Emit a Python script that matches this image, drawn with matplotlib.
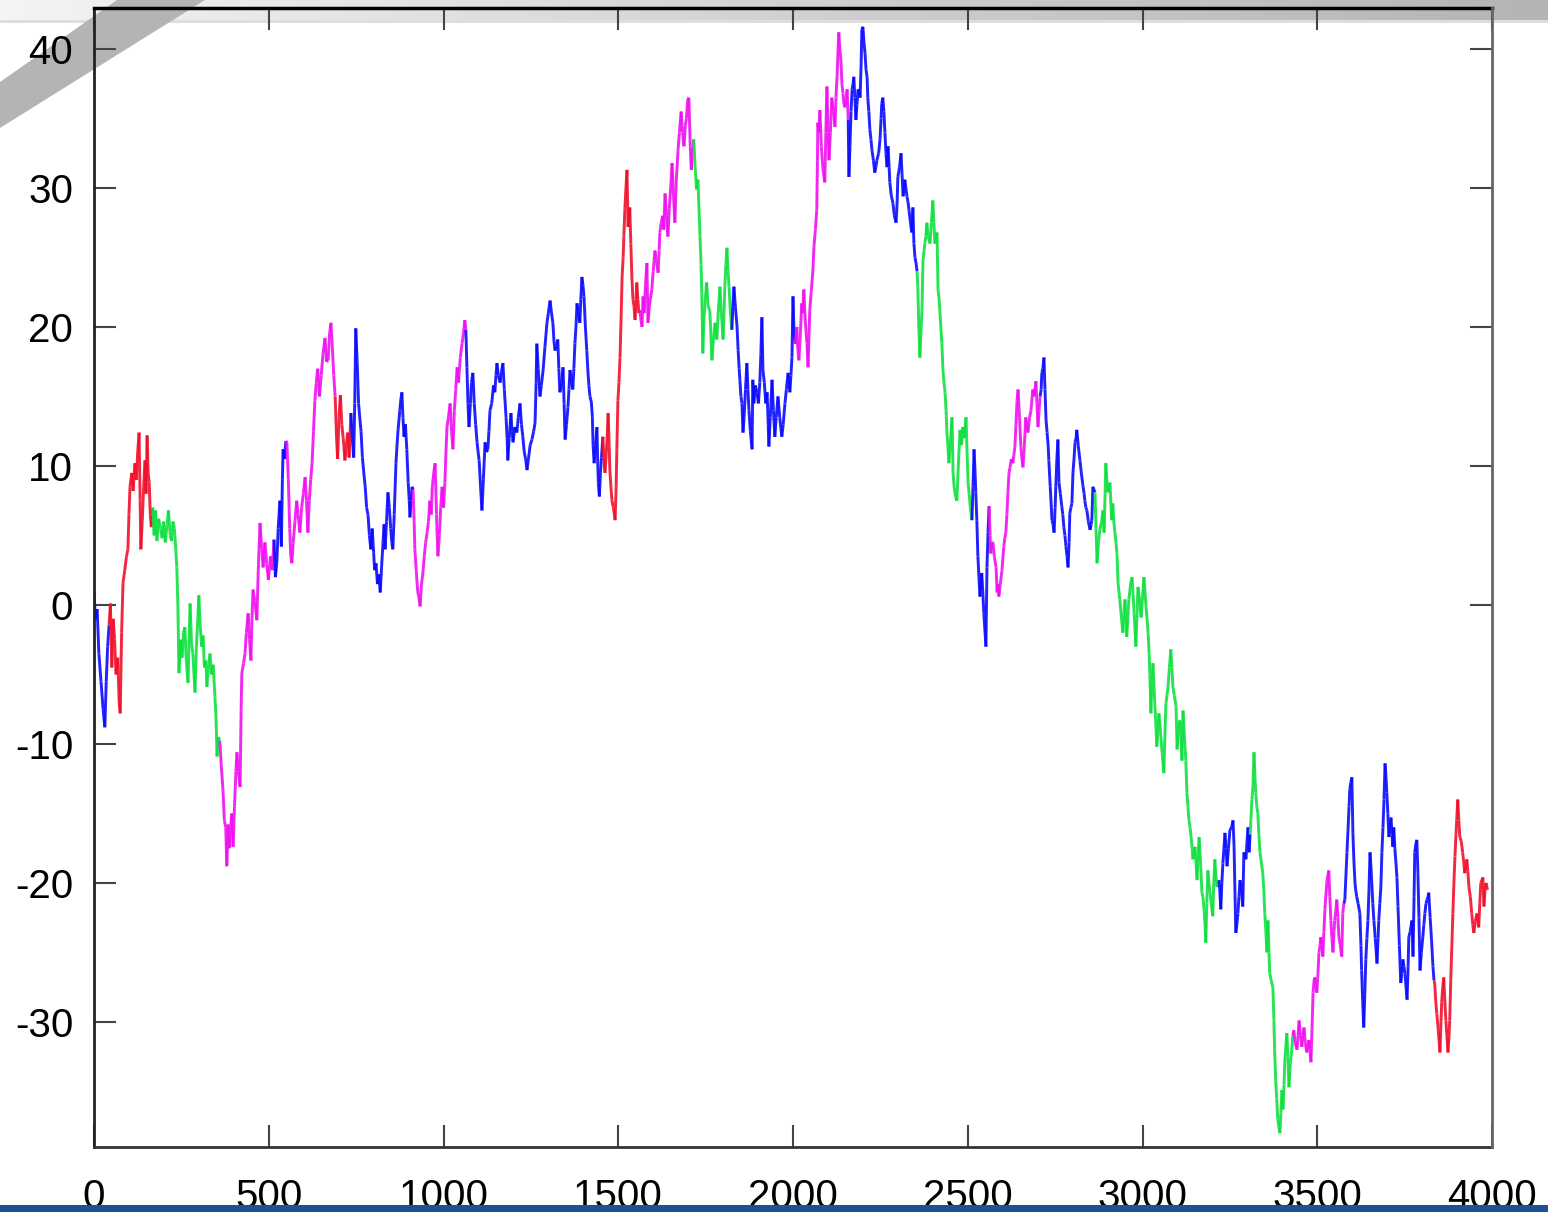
import matplotlib.pyplot as plt
import numpy as np
from matplotlib.collections import LineCollection
from matplotlib.colors import LinearSegmentedColormap
from matplotlib.patches import Polygon, Rectangle

plt.rcParams['font.family'] = ['Liberation Sans', 'DejaVu Sans']
plt.rcParams['axes.unicode_minus'] = False

# Random walk vertices (step, value), grouped by regime
walk_x = [
    0, 4, 9, 14, 20, 26, 31, 35, 39,
    43, 47, 51, 55, 59, 63, 68, 72, 75, 79, 83, 88, 93, 97, 100, 103, 108, 112, 117, 121, 125, 129, 132, 134, 138, 142, 146, 149, 152, 155, 158, 161, 164,
    168, 172, 176, 180, 185, 190, 195, 199, 204, 209, 213, 218, 222, 226, 230, 234, 237, 240, 243, 248, 252, 256, 260, 264, 269, 272, 275, 279, 283, 286, 289, 293, 297, 300, 304, 308, 312, 316, 320, 323, 327, 332, 336, 341, 346, 349, 352, 356,
    360, 364, 369, 373, 377, 380, 384, 387, 391, 394, 398, 402, 406, 409, 413, 418, 421, 423, 428, 432, 436, 441, 445, 449, 452, 455, 460, 466, 470, 475, 480, 484, 489, 494, 499, 505, 510,
    515, 519, 523, 527, 532, 536, 539, 541, 545,
    549, 552, 556, 560, 563, 566, 570, 575, 580, 584, 589, 594, 599, 604, 608, 612, 616, 620, 624, 628, 632, 636, 640, 645, 650, 655, 661, 665, 670, 674, 678, 682, 686,
    690, 694, 697, 701, 705, 709, 713, 718, 722, 726, 730,
    735, 739, 743, 746, 749, 753, 757, 760, 764, 768, 772, 776, 780, 784, 788, 792, 796, 800, 803, 807, 811, 815, 819, 823, 827, 830, 833, 837, 841, 845, 849, 852, 855, 859, 864, 867, 870, 875, 878, 881, 884, 887, 891, 895, 899, 902, 904, 907, 910,
    913, 916, 918, 922, 926, 930, 933, 937, 941, 945, 949, 953, 957, 961, 965, 968, 972, 976, 980, 984, 988, 992, 996, 1000, 1004, 1007, 1010, 1014, 1019, 1023, 1027, 1031, 1035, 1039, 1043, 1048, 1053, 1057, 1061,
    1064, 1067, 1070, 1073, 1077, 1080, 1084, 1088, 1092, 1096, 1099, 1102, 1106, 1110, 1114, 1119, 1123, 1127, 1130, 1133, 1138, 1143, 1147, 1150, 1153, 1157, 1162, 1166, 1170, 1174, 1179, 1182, 1184, 1188, 1193, 1196, 1199, 1204, 1210, 1214, 1219, 1223, 1227, 1231, 1235, 1239, 1243, 1248, 1253, 1258, 1262, 1265, 1267, 1271, 1276, 1280, 1285, 1290, 1296, 1300, 1305, 1309, 1313, 1316, 1319, 1323, 1327, 1330, 1333, 1338, 1342, 1345, 1348, 1352, 1356, 1359, 1362, 1366, 1370, 1373, 1376, 1379, 1382, 1386, 1390, 1393, 1396, 1399, 1402, 1406, 1410, 1413, 1416, 1419, 1423, 1426, 1428, 1431, 1435, 1439, 1441, 1443, 1446, 1449, 1452,
    1456, 1459, 1462, 1466, 1469, 1471, 1474, 1476, 1479, 1482, 1486, 1489, 1491, 1494, 1496, 1499, 1502, 1505, 1508, 1511, 1514, 1516, 1519, 1522, 1525, 1528, 1531, 1533, 1536, 1539, 1542, 1545, 1548, 1551, 1553, 1556, 1559,
    1562, 1565, 1568, 1571, 1574, 1578, 1582, 1585, 1589, 1592, 1596, 1600, 1605, 1609, 1614, 1617, 1619, 1623, 1627, 1630, 1634, 1638, 1642, 1646, 1650, 1654, 1658, 1662, 1666, 1671, 1675, 1680, 1684, 1688, 1692, 1695, 1699, 1702, 1706, 1709, 1712,
    1716, 1720, 1724, 1728, 1731, 1734, 1737, 1739, 1742, 1745, 1749, 1753, 1757, 1762, 1765, 1768, 1772, 1777, 1782, 1786, 1791, 1795, 1800, 1805, 1808, 1811, 1814, 1817, 1821,
    1825, 1828, 1831, 1835, 1840, 1843, 1846, 1848, 1851, 1854, 1857, 1860, 1864, 1868, 1871, 1874, 1878, 1883, 1885, 1888, 1892, 1897, 1901, 1905, 1908, 1911, 1914, 1918, 1922, 1926, 1929, 1931, 1935, 1940, 1944, 1948, 1952, 1957, 1962, 1968, 1972, 1977, 1981, 1986, 1991, 1994, 1997, 2000, 2003,
    2007, 2011, 2014, 2017, 2021, 2025, 2028, 2031, 2035, 2040, 2043, 2046, 2048, 2052, 2057, 2060, 2064, 2068, 2070, 2071, 2074, 2077, 2081, 2086, 2091, 2094, 2097, 2100, 2103, 2107, 2111, 2116, 2120, 2123, 2126, 2129, 2131, 2134, 2137, 2140, 2143, 2146, 2149, 2152, 2155,
    2158, 2160, 2163, 2166, 2169, 2172, 2174, 2177, 2180, 2183, 2186, 2189, 2192, 2195, 2197, 2200, 2203, 2206, 2209, 2212, 2214, 2217, 2220, 2223, 2226, 2230, 2234, 2237, 2240, 2245, 2249, 2252, 2254, 2257, 2260, 2263, 2266, 2269, 2272, 2275, 2277, 2281, 2286, 2290, 2295, 2298, 2300, 2305, 2309, 2312, 2315, 2318, 2320, 2323, 2326, 2329, 2332, 2336, 2340, 2343, 2346, 2349, 2352,
    2355, 2357, 2360, 2363, 2366, 2369, 2372, 2375, 2377, 2380, 2383, 2387, 2392, 2396, 2400, 2403, 2406, 2409, 2412, 2415, 2418, 2420, 2423, 2426, 2429, 2432, 2435, 2438, 2440, 2443, 2446, 2450, 2455, 2458, 2461, 2465, 2469, 2473, 2478, 2482, 2486, 2490, 2495, 2498, 2501, 2504, 2507,
    2512, 2515, 2518, 2521, 2523, 2526, 2529, 2532, 2535, 2540, 2543, 2546, 2549, 2552, 2555, 2558,
    2561, 2564, 2566, 2569, 2572, 2576, 2581, 2584, 2587, 2589, 2593, 2598, 2603, 2606, 2609, 2612, 2615, 2618, 2621, 2625, 2629, 2632, 2635, 2638, 2641, 2644, 2648, 2652, 2655, 2658, 2662, 2666, 2669, 2672, 2677, 2681, 2686, 2690, 2695, 2698, 2701, 2704,
    2707, 2710, 2712, 2715, 2718, 2721, 2724, 2727, 2730, 2732, 2736, 2741, 2744, 2747, 2750, 2752, 2755, 2758, 2761, 2765, 2769, 2772, 2775, 2778, 2781, 2784, 2787, 2790, 2792, 2795, 2798, 2801, 2804, 2807, 2810, 2812, 2816, 2821, 2825, 2830, 2833, 2835, 2838, 2841, 2845, 2850, 2853, 2855, 2858, 2861,
    2864, 2867, 2870, 2874, 2878, 2883, 2887, 2890, 2893, 2895, 2898, 2901, 2904, 2907, 2910, 2912, 2915, 2918, 2921, 2924, 2927, 2930, 2935, 2940, 2944, 2947, 2950, 2955, 2958, 2961, 2966, 2970, 2973, 2976, 2981, 2984, 2987, 2991, 2996, 3000, 3004, 3007, 3010, 3013, 3016, 3019, 3021, 3024, 3027, 3030, 3035, 3038, 3041, 3044, 3047, 3051, 3056, 3059, 3061, 3064, 3067, 3070, 3073, 3077, 3081, 3084, 3087, 3091, 3096, 3099, 3103, 3107, 3110, 3113, 3116, 3120, 3124, 3127, 3130, 3133, 3136, 3139, 3142, 3144, 3147, 3150, 3153, 3156, 3159, 3162, 3166, 3170, 3173, 3176, 3179, 3181, 3184, 3187, 3190, 3193, 3197, 3201, 3204, 3207, 3210, 3213, 3216,
    3219, 3221, 3224, 3227, 3230, 3233, 3236, 3239, 3242, 3246, 3250, 3255, 3259, 3262, 3264, 3267, 3270, 3273, 3276, 3279, 3283, 3287, 3290, 3293, 3296, 3299, 3302, 3305,
    3308, 3310, 3313, 3316, 3319, 3322, 3324, 3327, 3330, 3333, 3336, 3340, 3344, 3347, 3350, 3353, 3356, 3359, 3362, 3364, 3368, 3373, 3376, 3378, 3381, 3384, 3387, 3390, 3393, 3396, 3399, 3402, 3405, 3407, 3410, 3413, 3416, 3419, 3423, 3427,
    3430, 3433, 3437, 3442, 3445, 3448, 3452, 3456, 3459, 3462, 3466, 3470, 3473, 3476, 3479, 3482, 3485, 3488, 3491, 3493, 3496, 3499, 3502, 3505, 3508, 3510, 3513, 3516, 3519, 3522, 3525, 3528, 3530, 3533, 3536, 3539, 3542, 3545, 3548, 3550, 3553, 3556, 3559, 3562, 3566, 3570, 3573,
    3576, 3579, 3582, 3585, 3588, 3591, 3593, 3596, 3599, 3602, 3605, 3608, 3610, 3613, 3617, 3622, 3625, 3627, 3630, 3633, 3636, 3639, 3642, 3645, 3648, 3651, 3654, 3656, 3659, 3662, 3666, 3671, 3674, 3676, 3679, 3682, 3685, 3688, 3691, 3694, 3697, 3699, 3702, 3705, 3708, 3711, 3714, 3716, 3719, 3722, 3725, 3728, 3731, 3735, 3739, 3742, 3745, 3748, 3751, 3754, 3757, 3760, 3762, 3766, 3771, 3774, 3777, 3779, 3782, 3785, 3788, 3791, 3794, 3798, 3802, 3805, 3808, 3811, 3814, 3817, 3819, 3823, 3827, 3831,
    3834, 3836, 3839, 3842, 3846, 3849, 3851, 3854, 3856, 3859, 3862, 3865, 3868, 3871, 3874, 3877, 3879, 3882, 3885, 3888, 3891, 3894, 3897, 3899, 3902, 3905, 3908, 3912, 3916, 3919, 3922, 3925, 3928, 3931, 3934, 3938, 3942, 3945, 3948, 3952, 3957, 3960, 3962, 3965, 3968, 3971, 3974, 3977, 3980, 3983, 3987,
]
walk_y = [
    0.9, -1.0, -0.3, -3.5, -5.5, -7.5, -8.8, -5.5, -3.0,
    -1.5, 0.1, -4.5, -1.0, -2.5, -5.0, -3.8, -7.0, -7.8, -2.0, 1.6, 2.5, 3.5, 4.0, 6.5, 8.5, 9.5, 8.2, 10.2, 9.0, 11.0, 12.4, 7.5, 4.0, 6.0, 8.5, 10.4, 8.0, 12.2, 9.5, 8.8, 6.5, 5.6,
    7.0, 5.0, 6.8, 4.6, 6.2, 5.5, 4.8, 6.0, 4.5, 5.8, 6.8, 5.0, 4.6, 6.0, 5.5, 4.0, 2.7, 0.0, -4.9, -2.5, -3.8, -2.0, -1.6, -4.0, -5.6, -2.5, 0.1, -2.8, -3.5, -5.0, -6.3, -3.0, -1.0, 0.7, -1.5, -3.0, -2.2, -4.5, -4.0, -5.9, -4.6, -3.5, -5.0, -4.3, -6.6, -8.0, -10.9, -9.5,
    -9.8, -11.5, -13.3, -15.5, -16.0, -18.8, -15.8, -17.5, -16.2, -15.0, -17.4, -14.5, -12.0, -10.6, -12.0, -13.1, -7.5, -4.9, -4.2, -3.5, -2.0, -0.6, -2.5, -4.0, -1.0, 1.1, 0.3, -1.1, 2.5, 5.9, 4.0, 2.7, 4.5, 3.0, 1.8, 3.5, 2.5,
    4.7, 2.0, 3.0, 5.5, 7.5, 4.2, 9.0, 11.2, 10.5,
    11.8, 11.7, 9.0, 5.5, 3.5, 3.0, 4.5, 6.0, 7.5, 6.5, 5.2, 7.0, 8.0, 9.2, 7.5, 5.2, 7.5, 9.0, 10.2, 12.5, 14.7, 16.0, 17.0, 15.0, 16.5, 18.0, 19.2, 17.5, 17.6, 19.5, 20.3, 18.5, 16.5,
    15.0, 12.0, 10.5, 13.5, 15.1, 13.0, 12.0, 10.4, 11.5, 12.4, 10.6,
    13.8, 12.0, 10.6, 14.5, 19.9, 17.5, 14.5, 13.6, 12.5, 10.6, 9.5, 8.5, 7.0, 6.5, 5.0, 4.0, 5.5, 3.8, 2.5, 3.0, 1.5, 2.2, 0.9, 2.8, 4.5, 5.8, 4.0, 6.0, 8.1, 7.0, 5.5, 4.5, 4.0, 6.5, 10.2, 11.5, 12.6, 14.0, 14.8, 15.3, 13.5, 12.1, 13.0, 11.2, 8.8, 7.5, 6.3, 7.5, 8.5,
    8.3, 6.0, 4.0, 2.5, 1.0, 0.5, -0.1, 1.5, 2.3, 3.5, 4.5, 5.2, 6.0, 7.5, 6.5, 8.5, 9.5, 10.2, 6.5, 3.5, 5.0, 7.0, 8.5, 7.0, 8.8, 11.0, 12.8, 13.5, 14.5, 12.5, 11.2, 14.0, 15.5, 17.1, 16.0, 17.8, 18.8, 19.5, 20.5,
    19.8, 17.1, 14.5, 12.8, 14.5, 16.0, 16.7, 14.5, 13.0, 11.7, 11.0, 10.4, 8.5, 6.8, 9.0, 11.7, 11.0, 11.2, 12.5, 14.0, 14.5, 15.8, 15.3, 16.5, 17.4, 16.5, 16.0, 16.8, 17.4, 15.5, 13.5, 12.0, 10.4, 12.0, 13.8, 12.5, 11.7, 12.8, 12.4, 13.5, 14.5, 13.0, 12.1, 11.0, 10.5, 9.7, 10.5, 11.5, 11.9, 12.5, 13.1, 16.0, 18.8, 17.0, 15.0, 15.8, 16.9, 18.5, 20.3, 21.0, 21.9, 21.0, 20.3, 19.0, 18.3, 18.6, 19.1, 17.0, 15.3, 16.0, 17.1, 14.5, 11.9, 13.0, 14.2, 15.5, 16.9, 16.0, 15.5, 17.0, 18.8, 20.0, 21.7, 21.0, 20.3, 22.0, 23.6, 23.0, 22.2, 20.0, 18.3, 16.9, 15.8, 15.0, 14.6, 13.5, 11.5, 10.2, 11.5, 12.8, 10.5, 8.8, 7.8, 9.5, 10.6,
    12.1, 10.5, 9.5, 11.0, 12.5, 13.8, 11.5, 9.7, 8.5, 7.5, 7.0, 6.5, 6.1, 8.5, 11.2, 14.7, 16.0, 17.8, 20.5, 23.6, 25.0, 26.5, 28.5, 30.0, 31.3, 27.2, 27.8, 28.6, 26.0, 23.6, 22.0, 21.5, 20.5, 22.0, 23.2, 22.0, 21.0,
    21.2, 20.5, 20.0, 22.2, 21.0, 23.0, 24.6, 20.3, 21.5, 22.0, 22.7, 24.0, 25.5, 24.8, 23.9, 25.5, 26.8, 27.5, 28.0, 27.0, 29.6, 28.0, 26.5, 28.5, 30.0, 31.8, 29.5, 27.5, 30.5, 32.7, 34.0, 35.5, 34.0, 33.0, 34.5, 35.0, 36.4, 36.5, 33.0, 31.3, 32.5,
    33.5, 31.5, 29.9, 30.6, 28.5, 26.5, 24.5, 22.4, 18.1, 20.5, 22.0, 23.2, 21.5, 21.2, 19.5, 17.6, 19.0, 20.3, 19.1, 21.0, 22.9, 21.0, 19.1, 22.9, 24.5, 25.7, 24.0, 22.9, 21.0,
    19.8, 21.5, 22.9, 21.5, 20.0, 18.3, 17.0, 16.2, 15.0, 14.5, 12.4, 13.5, 15.5, 17.4, 15.5, 14.0, 12.5, 11.2, 16.2, 14.5, 15.8, 15.3, 14.5, 16.0, 18.0, 20.7, 16.9, 16.0, 14.5, 15.3, 13.0, 11.4, 13.5, 16.2, 14.0, 12.1, 13.5, 15.0, 13.5, 12.1, 13.0, 14.5, 15.5, 16.7, 15.3, 16.5, 17.8, 22.2, 19.5,
    18.8, 20.0, 18.3, 17.6, 19.5, 21.7, 21.0, 22.7, 20.5, 18.8, 17.1, 19.5, 21.2, 22.5, 24.1, 25.8, 27.0, 28.4, 32.0, 34.7, 34.0, 35.6, 33.0, 31.3, 30.4, 34.0, 37.3, 34.5, 32.0, 34.0, 36.5, 35.5, 34.4, 36.5, 38.0, 40.0, 41.2, 40.0, 39.2, 37.5, 36.8, 36.0, 35.8, 36.5, 37.1,
    34.9, 30.8, 33.0, 35.5, 37.1, 37.5, 38.0, 36.5, 34.9, 36.0, 37.1, 37.0, 36.5, 39.0, 41.4, 41.6, 40.5, 39.7, 38.5, 38.0, 36.5, 35.5, 34.2, 33.5, 32.7, 32.0, 31.1, 31.5, 32.0, 32.5, 33.5, 35.0, 36.1, 36.5, 35.5, 34.0, 32.5, 31.5, 33.0, 31.5, 30.4, 29.5, 28.9, 28.0, 27.5, 29.0, 30.8, 31.5, 32.5, 31.0, 29.4, 30.0, 30.6, 30.0, 29.4, 29.0, 28.4, 27.5, 26.8, 28.6, 26.0, 25.0, 24.6,
    24.0, 22.9, 20.0, 17.8, 19.5, 21.2, 24.8, 25.5, 26.0, 26.5, 27.5, 26.5, 26.0, 27.5, 29.1, 27.5, 26.0, 26.3, 26.8, 22.7, 22.0, 21.2, 20.0, 18.8, 16.9, 16.0, 15.3, 14.0, 12.6, 11.5, 10.2, 11.5, 13.5, 9.5, 8.5, 7.8, 7.5, 10.0, 12.6, 11.5, 12.8, 12.0, 13.5, 11.0, 8.8, 8.0, 7.1,
    6.1, 8.5, 11.2, 9.5, 8.1, 6.1, 3.5, 2.0, 0.6, 2.3, 1.0, -0.6, -1.8, -3.0, 2.7, 5.2,
    7.1, 5.0, 3.7, 4.5, 4.5, 3.5, 2.7, 0.9, 1.5, 0.6, 1.5, 2.5, 4.2, 4.8, 5.2, 6.5, 8.1, 9.5, 9.9, 10.5, 10.2, 10.8, 11.4, 13.0, 14.7, 15.5, 13.5, 11.4, 10.5, 9.9, 11.5, 13.5, 13.0, 12.4, 13.5, 14.0, 15.5, 15.0, 16.1, 14.5, 12.8, 14.0,
    15.0, 15.5, 16.7, 17.0, 17.8, 15.5, 13.3, 12.4, 11.5, 10.4, 8.5, 6.1, 5.8, 5.2, 7.0, 8.5, 10.5, 11.9, 8.8, 8.0, 7.1, 6.5, 5.6, 5.0, 4.2, 3.5, 2.7, 4.5, 6.6, 7.0, 7.3, 9.5, 10.5, 11.7, 12.0, 12.6, 11.5, 10.4, 9.5, 8.5, 8.0, 7.5, 7.0, 6.8, 6.0, 5.4, 5.8, 6.1, 8.5, 8.3,
    8.1, 5.5, 3.0, 4.5, 5.4, 6.0, 6.8, 5.2, 8.0, 10.2, 9.0, 8.1, 8.5, 8.8, 7.0, 6.1, 7.3, 6.0, 5.2, 4.5, 3.7, 1.6, 0.4, -1.0, -2.0, -0.5, 0.4, -2.3, -1.0, 0.4, 1.5, 2.0, 0.8, -0.6, -3.0, -1.0, 1.3, 0.5, -0.9, 0.5, 2.0, 1.0, -0.1, -1.0, -2.0, -3.5, -5.0, -7.8, -5.5, -4.2, -7.0, -8.5, -10.2, -9.0, -7.8, -9.0, -10.6, -11.5, -12.1, -9.5, -7.1, -6.5, -5.9, -4.5, -3.2, -4.5, -5.9, -6.5, -7.3, -10.4, -9.0, -8.3, -9.5, -11.2, -7.6, -9.5, -11.2, -13.5, -14.5, -15.5, -16.0, -16.7, -17.5, -18.3, -18.0, -17.4, -18.5, -19.8, -18.0, -16.7, -18.5, -20.7, -21.0, -21.9, -23.0, -24.3, -21.5, -19.1, -20.0, -20.7, -21.5, -22.4, -20.0, -18.3, -19.5, -20.3, -20.0,
    -19.8, -20.5, -21.9, -20.0, -18.6, -17.5, -16.4, -17.5, -18.8, -17.5, -16.2, -16.0, -15.5, -17.4, -20.0, -23.6, -23.0, -22.2, -21.0, -19.8, -20.5, -21.7, -17.8, -18.0, -18.3, -17.0, -16.0, -17.8,
    -16.5, -15.5, -14.0, -13.1, -10.6, -12.5, -13.5, -14.5, -15.0, -16.5, -17.8, -18.5, -19.3, -20.5, -22.2, -23.5, -25.0, -22.7, -25.0, -26.5, -27.0, -27.5, -29.9, -32.0, -34.2, -35.5, -37.0, -37.5, -38.0, -36.5, -34.9, -36.3, -34.5, -32.9, -31.8, -30.8, -32.5, -34.7, -33.0, -32.0,
    -31.0, -30.6, -31.5, -32.0, -31.0, -29.9, -31.0, -31.8, -31.0, -30.4, -31.5, -32.2, -31.8, -31.3, -32.0, -32.9, -30.5, -27.9, -27.0, -26.8, -27.5, -27.9, -26.5, -25.0, -24.5, -23.9, -24.5, -25.3, -23.5, -21.9, -20.8, -19.8, -19.5, -19.1, -21.0, -22.7, -24.0, -25.0, -23.5, -22.7, -22.0, -21.2, -22.5, -23.9, -24.5, -25.3, -22.2,
    -21.5, -21.2, -19.5, -17.8, -16.2, -14.5, -13.3, -12.8, -12.4, -16.4, -18.5, -20.0, -20.5, -21.0, -21.5, -22.2, -24.5, -26.3, -28.5, -30.4, -28.0, -25.5, -24.0, -22.7, -20.5, -17.8, -19.0, -20.0, -21.5, -22.7, -24.0, -25.8, -24.0, -22.7, -21.5, -20.3, -17.8, -16.0, -14.0, -11.4, -12.5, -13.5, -15.0, -16.7, -16.0, -15.3, -16.5, -17.4, -16.0, -17.5, -18.5, -19.6, -21.7, -24.5, -27.2, -26.5, -25.5, -26.0, -26.5, -27.5, -28.4, -26.0, -23.9, -23.5, -22.7, -25.3, -21.0, -17.8, -17.2, -16.9, -19.3, -22.5, -26.3, -25.0, -23.9, -23.0, -22.2, -21.5, -21.2, -21.0, -20.7, -22.5, -24.1, -26.0,
    -27.0, -27.2, -28.5, -29.4, -30.5, -31.5, -32.2, -30.0, -28.6, -27.5, -26.8, -28.5, -29.9, -31.0, -32.2, -31.0, -29.9, -27.0, -24.6, -22.2, -20.0, -18.1, -16.5, -15.5, -14.0, -15.5, -16.7, -17.0, -17.8, -18.5, -19.3, -18.8, -18.3, -19.2, -20.3, -21.0, -22.2, -23.0, -23.6, -22.8, -22.2, -22.8, -23.2, -21.5, -20.0, -19.8, -19.6, -21.7, -20.5, -20.0, -20.5,
]

# Regime switches: first step of each regime and its label
regime_starts = [0, 41, 166, 358, 512, 547, 688, 733, 912, 1063, 1454, 1560, 1714,
                 1823, 2005, 2157, 2354, 2510, 2560, 2706, 2863, 3218, 3307, 3429, 3575, 3833]
regime_names = ['blue', 'red', 'green', 'magenta', 'blue', 'magenta', 'red', 'blue', 'magenta',
                'blue', 'red', 'magenta', 'green', 'blue', 'magenta', 'blue', 'green', 'blue',
                'magenta', 'blue', 'green', 'blue', 'green', 'magenta', 'blue', 'red']

x_ticks = [0, 500, 1000, 1500, 2000, 2500, 3000, 3500, 4000]
y_ticks = [-30, -20, -10, 0, 10, 20, 30, 40]

palette = {'blue': '#0a0aff', 'red': '#f0102a', 'magenta': '#f010f0', 'green': '#10e040'}

if len(walk_x) != len(walk_y):
    raise ValueError(f"walk_x has {len(walk_x)} points, walk_y has {len(walk_y)}")

W, H = 1548, 1212
fig = plt.figure(figsize=(W / 100, H / 100), dpi=100)
fig.patch.set_facecolor('white')

# slide backdrop: grey header strip and diagonal band
bg = fig.add_axes([0, 0, 1, 1], zorder=0)
header = LinearSegmentedColormap.from_list('header', ['#f4f4f4', '#d2d2d2', '#b4b4b4'])
bg.imshow(np.linspace(0, 1, 256)[None, :], cmap=header, extent=(0, W, 23, 0), aspect='auto')
bg.add_patch(Rectangle((0, 20), W, 3, color='#dedede', lw=0))
bg.add_patch(Polygon([(0, 82), (117, 0), (205, 0), (0, 128)], closed=True, color='#b4b4b4', lw=0))
bg.set_xlim(0, W)
bg.set_ylim(H, 0)
bg.axis('off')

ax = fig.add_axes([94 / W, 1 - 1147 / H, (1492 - 94) / W, (1147 - 8) / H], zorder=1)
ax.patch.set_alpha(0)

pts = np.column_stack([walk_x, walk_y])
segs = np.stack([pts[:-1], pts[1:]], axis=1)
idx = np.searchsorted(regime_starts, np.asarray(walk_x[:-1]), side='right') - 1
seg_colors = [palette[regime_names[i]] for i in idx]
ax.add_collection(LineCollection(segs, colors=seg_colors, linewidths=2.1, alpha=0.9))

ax.set_xlim(0, 4000)
ax.set_ylim(-39, 42.95)
ax.set_xticks(x_ticks)
ax.set_yticks(y_ticks)
ax.tick_params(axis='both', direction='in', length=16, width=1.5, color='#444444',
               labelsize=29, labelcolor='black')
ax.tick_params(axis='x', top=True, pad=22)
ax.tick_params(axis='y', right=False, pad=15)

# right-hand ticks only on the upper half
ax_r = ax.twinx()
ax_r.set_ylim(ax.get_ylim())
ax_r.set_yticks([0, 10, 20, 30, 40])
ax_r.tick_params(axis='y', direction='in', length=16, width=1.5, color='#444444', labelright=False)
for side in ['left', 'top', 'bottom']:
    ax_r.spines[side].set_visible(False)
ax_r.spines['right'].set_color('#666666')
ax_r.spines['right'].set_linewidth(2)

ax.spines['left'].set_color('#222222')
ax.spines['left'].set_linewidth(2)
ax.spines['bottom'].set_color('#333333')
ax.spines['bottom'].set_linewidth(2)
ax.spines['top'].set_color('black')
ax.spines['top'].set_linewidth(2.5)
ax.spines['right'].set_visible(False)

# blue footer line of the slide
fg = fig.add_axes([0, 0, 1, 1], zorder=5)
fg.patch.set_alpha(0)
fg.add_patch(Rectangle((0, 1205), W, 7, color='#1b5294', lw=0))
fg.set_xlim(0, W)
fg.set_ylim(H, 0)
fg.axis('off')

fig.savefig('out.png', dpi=100)
